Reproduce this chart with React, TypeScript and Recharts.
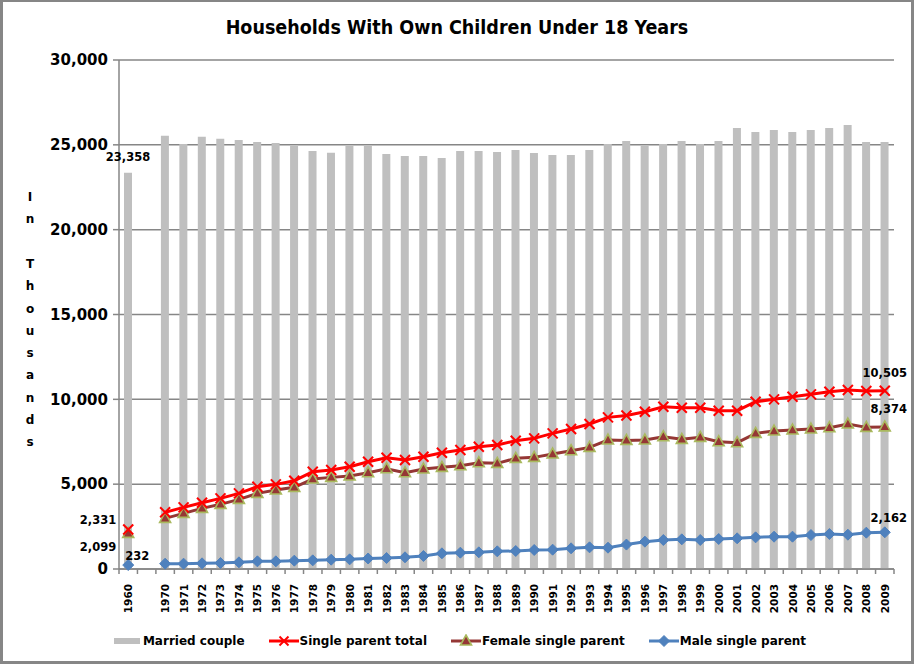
import {
  ComposedChart, Bar, Line, XAxis, YAxis,
  CartesianGrid, Legend, LabelList,
} from 'recharts';

// blank slot between 1960 and 1970 keeps the gap in the category axis
const years = [
  '1960', '',
  '1970', '1971', '1972', '1973', '1974', '1975', '1976', '1977', '1978', '1979',
  '1980', '1981', '1982', '1983', '1984', '1985', '1986', '1987', '1988', '1989',
  '1990', '1991', '1992', '1993', '1994', '1995', '1996', '1997', '1998', '1999',
  '2000', '2001', '2002', '2003', '2004', '2005', '2006', '2007', '2008', '2009',
];

const marriedCouple = [
  23358, null,
  25533, 25044, 25475, 25357, 25280, 25162, 25103, 24926, 24632, 24533,
  24926, 24946, 24455, 24337, 24337, 24219, 24632, 24632, 24573, 24691,
  24514, 24396, 24396, 24691, 25044, 25221, 24946, 25044, 25221, 25044,
  25221, 25987, 25751, 25869, 25751, 25869, 25987, 26164, 25162, 25173,
];

const singleParentTotal = [
  2331, null,
  3340, 3634, 3909, 4164, 4458, 4851, 4989, 5204, 5734, 5834,
  6030, 6325, 6560, 6423, 6620, 6855, 7012, 7208, 7307, 7562,
  7700, 7995, 8250, 8545, 8938, 9050, 9271, 9566, 9507, 9507,
  9330, 9330, 9861, 10000, 10157, 10294, 10451, 10548, 10489, 10505,
];

const femaleSingleParent = [
  2099, null,
  2986, 3280, 3575, 3811, 4105, 4458, 4655, 4812, 5303, 5400,
  5480, 5677, 5912, 5677, 5893, 5991, 6089, 6266, 6226, 6521,
  6580, 6777, 6972, 7169, 7602, 7580, 7602, 7798, 7641, 7759,
  7503, 7444, 7995, 8132, 8191, 8250, 8329, 8545, 8348, 8374,
];

const maleSingleParent = [
  232, null,
  314, 314, 333, 353, 393, 452, 452, 491, 510, 550,
  570, 619, 648, 688, 766, 923, 962, 982, 1041, 1061,
  1120, 1139, 1218, 1277, 1257, 1440, 1611, 1709, 1748, 1709,
  1768, 1807, 1866, 1905, 1905, 2003, 2062, 2023, 2141, 2162,
];

const yTicks = [0, 5000, 10000, 15000, 20000, 25000, 30000];

const data = years.map((year, i) => ({
  year,
  married: marriedCouple[i],
  total: singleParentTotal[i],
  female: femaleSingleParent[i],
  male: maleSingleParent[i],
}));

const W = 914;
const H = 664;
const MARGIN = { top: 60, right: 20, left: 0, bottom: 11 };
const Y_AXIS_W = 119;
const BAND = (W - Y_AXIS_W - MARGIN.right) / years.length;

const FONT = "'DejaVu Sans', Verdana, sans-serif";
const GRID = '#868686';
const RED = '#FF0000';
const BROWN = '#953735';
const OLIVE = '#A9B95E';
const BLUE = '#4F81BD';
const GRAY_BAR = '#BFBFBF';

const fmt = (v: number) => v.toLocaleString('en-US');

// label placement per point index (only first and last points are labelled)
type Off = { dx: number; dy: number; anchor?: 'start' | 'middle' | 'end' };
const lastIdx = years.length - 1;
const marriedLabels: Record<number, Off> = { 0: { dx: 0, dy: -16 }, [lastIdx]: { dx: 0, dy: -16 } };
const totalLabels: Record<number, Off> = { 0: { dx: -12, dy: -9, anchor: 'end' }, [lastIdx]: { dx: 0, dy: -18 } };
const femaleLabels: Record<number, Off> = { 0: { dx: -12, dy: 14, anchor: 'end' }, [lastIdx]: { dx: 4, dy: -18 } };
const maleLabels: Record<number, Off> = { 0: { dx: 9, dy: -9 }, [lastIdx]: { dx: 4, dy: -14 } };

function makeLabel(offsets: Record<number, Off>, isBar = false) {
  return (props: any) => {
    const { x, y, width, value, index } = props;
    const o = offsets[index];
    if (!o || value == null) return null;
    const cx = isBar ? Number(x) + Number(width) / 2 : Number(x);
    return (
      <text
        x={cx + o.dx}
        y={Number(y) + o.dy}
        textAnchor={o.anchor ?? 'middle'}
        dominantBaseline="central"
        fontFamily={FONT}
        fontSize={11.5}
        fontWeight={700}
        fill="#000"
      >
        {fmt(Number(value))}
      </text>
    );
  };
}

function XMark({ cx, cy, size = 5 }: { cx: number; cy: number; size?: number }) {
  return (
    <g>
      <line x1={cx - size} y1={cy - size} x2={cx + size} y2={cy + size} stroke={RED} strokeWidth={2} />
      <line x1={cx - size} y1={cy + size} x2={cx + size} y2={cy - size} stroke={RED} strokeWidth={2} />
    </g>
  );
}

function TriMark({ cx, cy }: { cx: number; cy: number }) {
  return (
    <polygon
      points={`${cx},${cy - 6} ${cx + 5.5},${cy + 4} ${cx - 5.5},${cy + 4}`}
      fill={BROWN}
      stroke={OLIVE}
      strokeWidth={1.6}
    />
  );
}

function DiamondMark({ cx, cy }: { cx: number; cy: number }) {
  return (
    <polygon
      points={`${cx},${cy - 5.5} ${cx + 5.5},${cy} ${cx},${cy + 5.5} ${cx - 5.5},${cy}`}
      fill={BLUE}
      stroke={BLUE}
      strokeWidth={1}
    />
  );
}

function dotOf(Mark: any) {
  return (props: any) => {
    const { cx, cy, index, value } = props;
    if (cx == null || cy == null || value == null) return <g key={index} />;
    return <Mark key={index} cx={cx} cy={cy} />;
  };
}

// Excel style: tick marks sit on the category boundaries, labels rotated
function YearTick(props: any) {
  const { x, y, payload, index } = props;
  return (
    <g transform={`translate(${x},${y})`}>
      <line x1={-BAND / 2} x2={-BAND / 2} y1={0} y2={5} stroke={GRID} strokeWidth={1.5} />
      {index === lastIdx && (
        <line x1={BAND / 2} x2={BAND / 2} y1={0} y2={5} stroke={GRID} strokeWidth={1.5} />
      )}
      <text
        transform="rotate(-90)"
        x={-15}
        y={4}
        textAnchor="end"
        fontFamily={FONT}
        fontSize={10.5}
        fontWeight={700}
        fill="#000"
      >
        {payload.value}
      </text>
    </g>
  );
}

const axisTitle = ['I', 'n', '', 'T', 'h', 'o', 'u', 's', 'a', 'n', 'd', 's'];

function StackedAxisTitle() {
  return (
    <text fontFamily={FONT} fontSize={12} fontWeight={700} fill="#000" textAnchor="middle">
      {axisTitle.map((ch, i) => (
        <tspan key={i} x={30} y={201 + i * 22.3}>{ch || '\u00a0'}</tspan>
      ))}
    </text>
  );
}

function LegendItem({ label, children }: { label: string; children: any }) {
  return (
    <span style={{ display: 'inline-flex', alignItems: 'center', gap: 1 }}>
      <svg width={30} height={14}>{children}</svg>
      <span>{label}</span>
    </span>
  );
}

function ChartLegend() {
  return (
    <div
      style={{
        display: 'flex', justifyContent: 'center', alignItems: 'center', gap: 24,
        height: 24, fontFamily: FONT, fontSize: 12, fontWeight: 700, color: '#000',
        paddingLeft: 4,
      }}
    >
      <LegendItem label="Married couple">
        <rect x={2} y={4} width={26} height={6} fill={GRAY_BAR} />
      </LegendItem>
      <LegendItem label="Single parent total">
        <line x1={0} y1={7} x2={30} y2={7} stroke={RED} strokeWidth={3} />
        <XMark cx={15} cy={7} size={4.5} />
      </LegendItem>
      <LegendItem label="Female single parent">
        <line x1={0} y1={7} x2={30} y2={7} stroke={BROWN} strokeWidth={3} />
        <TriMark cx={15} cy={7} />
      </LegendItem>
      <LegendItem label="Male single parent">
        <line x1={0} y1={7} x2={30} y2={7} stroke={BLUE} strokeWidth={3} />
        <DiamondMark cx={15} cy={7} />
      </LegendItem>
    </div>
  );
}

export default function App() {
  return (
    <div style={{ position: 'absolute', left: 0, top: 0, width: W, height: H, background: '#fff' }}>
      <div
        style={{
          position: 'absolute', top: 16, left: 0, width: W, textAlign: 'center',
          fontFamily: "'Liberation Sans Narrow', 'DejaVu Sans Condensed', Arial, sans-serif",
          fontSize: 19.5, fontWeight: 700, color: '#000', zIndex: 2,
        }}
      >
        Households With Own Children Under 18 Years
      </div>
      <ComposedChart width={W} height={H} data={data} margin={MARGIN} barCategoryGap={0}>
        <CartesianGrid vertical={false} stroke={GRID} strokeWidth={1.5} />
        <XAxis
          dataKey="year"
          interval={0}
          height={60}
          tickSize={0}
          tickMargin={0}
          tickLine={false}
          axisLine={{ stroke: GRID, strokeWidth: 1.5 }}
          tick={<YearTick />}
        />
        <YAxis
          width={Y_AXIS_W}
          domain={[0, 30000]}
          ticks={yTicks}
          tickFormatter={fmt}
          tickSize={6}
          tickMargin={5}
          tickLine={{ stroke: GRID, strokeWidth: 1.5 }}
          axisLine={{ stroke: GRID, strokeWidth: 1.5 }}
          tick={{ fontFamily: FONT, fontSize: 15, fontWeight: 700, fill: '#000' }}
          label={{ content: () => <StackedAxisTitle /> }}
        />
        <Legend
          verticalAlign="bottom"
          wrapperStyle={{ left: 0, width: W }}
          content={() => <ChartLegend />}
        />
        <Bar dataKey="married" name="Married couple" fill={GRAY_BAR} barSize={8} isAnimationActive={false}>
          <LabelList dataKey="married" content={makeLabel(marriedLabels, true)} />
        </Bar>
        <Line
          dataKey="male" name="Male single parent" stroke={BLUE} strokeWidth={3}
          dot={dotOf(DiamondMark)} activeDot={false} isAnimationActive={false}
        >
          <LabelList dataKey="male" content={makeLabel(maleLabels)} />
        </Line>
        <Line
          dataKey="female" name="Female single parent" stroke={BROWN} strokeWidth={3}
          dot={dotOf(TriMark)} activeDot={false} isAnimationActive={false}
        >
          <LabelList dataKey="female" content={makeLabel(femaleLabels)} />
        </Line>
        <Line
          dataKey="total" name="Single parent total" stroke={RED} strokeWidth={3}
          dot={dotOf(XMark)} activeDot={false} isAnimationActive={false}
        >
          <LabelList dataKey="total" content={makeLabel(totalLabels)} />
        </Line>
      </ComposedChart>
      <div
        style={{
          position: 'absolute', inset: 0, border: '3px solid #868686',
          borderTopWidth: 2, pointerEvents: 'none',
        }}
      />
    </div>
  );
}
